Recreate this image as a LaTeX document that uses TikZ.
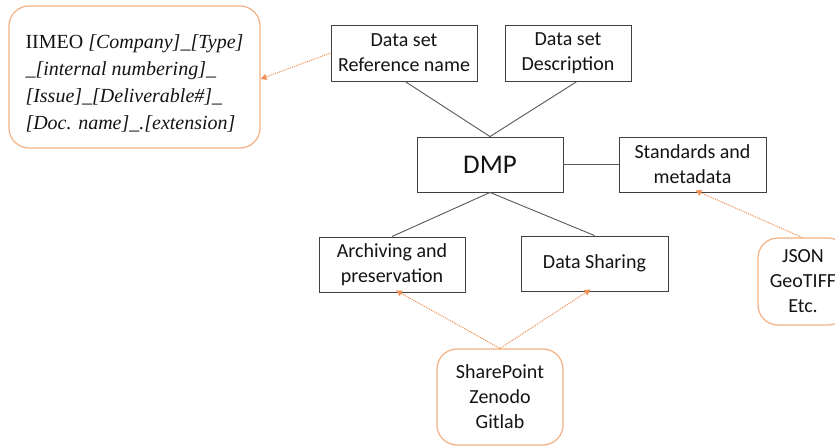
\documentclass[tikz,border=0pt]{standalone}
\usepackage{fontspec}
\setmainfont{Carlito}
\newfontfamily\timesfont{Liberation Serif}
\usetikzlibrary{arrows.meta}
\definecolor{boxline}{RGB}{64,64,64}
\definecolor{conn}{RGB}{89,89,89}
\definecolor{orng}{RGB}{244,177,131}
\definecolor{orarrow}{RGB}{240,145,85}
\definecolor{txt}{RGB}{20,20,20}
\tikzset{
  plainbox/.style={draw=boxline, line width=0.9pt, inner sep=0pt, align=center, text=txt,
    font=\fontsize{20}{25}\selectfont},
  softbox/.style={draw=orng, line width=1.2pt, rounded corners=20pt, inner sep=0pt, align=center, text=txt,
    font=\fontsize{20}{25}\selectfont},
  link/.style={draw=conn, line width=0.9pt},
  hint/.style={draw=orarrow, line width=1pt, densely dotted, -{Triangle[length=6pt,width=6pt]}}
}
\begin{document}
\begin{tikzpicture}[x=1pt,y=-1pt]
\clip (0,0) rectangle (835,446);
\fill[white] (0,0) rectangle (835,446);
% left naming box
\node[softbox, align=left, minimum width=251pt, minimum height=142pt,
      font=\timesfont\fontsize{20}{27}\selectfont] (lbox) at (134.5,77)
  {\rule{0pt}{27pt}IIMEO \textit{[Company]\_[Type]}\\
   \textit{\_[internal numbering]\_}\\
   \textit{[Issue]\_[Deliverable\#]\_}\\
   \textit{[Doc. name]\_.[extension]}};
% main boxes
\node[plainbox, minimum width=146pt, minimum height=56pt] (ref) at (404,53) {Data set\\Reference name};
\node[plainbox, minimum width=126pt, minimum height=56pt] (desc) at (568,53) {Data set\\Description};
\node[plainbox, minimum width=146pt, minimum height=55pt, font=\fontsize{27}{32}\selectfont] (dmp) at (490,164.5) {DMP};
\node[plainbox, minimum width=147pt, minimum height=55pt] (std) at (692.5,164.5) {Standards and\\metadata};
\node[plainbox, minimum width=146pt, minimum height=55pt] (arch) at (392,264.5) {Archiving and\\preservation};
\node[plainbox, minimum width=147pt, minimum height=55pt] (share) at (594.5,263.5) {Data Sharing};
% tool boxes
\node[softbox, minimum width=126pt, minimum height=96pt] (sp) at (500,397) {SharePoint\\Zenodo\\Gitlab};
\node[softbox, minimum width=90pt, minimum height=87pt] (json) at (803,281.5) {JSON\\GeoTIFF\\Etc.};
% connectors
\draw[link] ([xshift=1pt]ref.south) -- (dmp.north);
\draw[link] ([xshift=9pt]desc.south) -- (dmp.north);
\draw[link] (dmp.south) -- (arch.north);
\draw[link] (dmp.south) -- (share.north);
\draw[link] (dmp.east) -- (std.west);
% dotted arrows
\draw[hint] (ref.west) -- ([yshift=-2pt]lbox.east);
\draw[hint] ([xshift=-1pt]json.north) -- ([xshift=3pt,yshift=2pt]std.south);
\draw[hint] (sp.north) -- ([xshift=4pt,yshift=2pt]arch.south);
\draw[hint] (sp.north) -- ([xshift=-4pt,yshift=2pt]share.south);
\end{tikzpicture}
\end{document}
